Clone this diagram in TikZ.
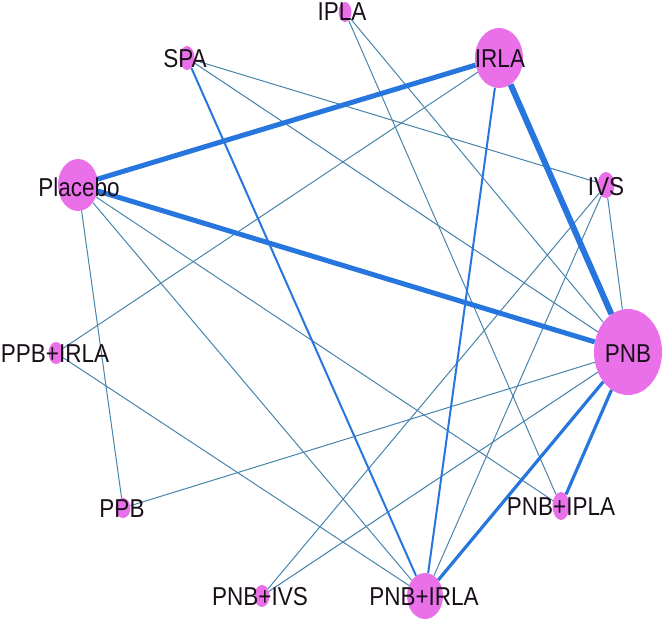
\documentclass[tikz,border=0pt]{standalone}
\usepackage{fontspec}
\setmainfont{Liberation Sans}
\usetikzlibrary{shapes.geometric}
\definecolor{nodefill}{RGB}{234,112,234}
\definecolor{thinedge}{RGB}{72,132,172}
\definecolor{thickedge}{RGB}{38,118,222}
\definecolor{labelcol}{RGB}{25,15,25}
\tikzset{
  dot/.style={ellipse, fill=nodefill, draw=none, inner sep=0pt},
  lbl/.style={inner sep=0pt, text=labelcol, font=\fontsize{22.5}{24}\selectfont},
  thin edge/.style={draw=thinedge, line width=1pt},
  mid edge/.style={draw=thickedge, line width=2pt},
  med edge/.style={draw=thickedge, line width=3.2pt},
  fat edge/.style={draw=thickedge, line width=5pt},
}
\newcommand{\lab}[1]{\scalebox{1}[1.15]{#1}}
\begin{document}
\begin{tikzpicture}[x=1pt,y=-1pt]
\useasboundingbox (0,0) rectangle (665,622);
% nodes
\node[dot, minimum width=13pt, minimum height=20pt] (IPLA) at (345,12) {};
\node[dot, minimum width=15pt, minimum height=24pt] (SPA) at (187,58) {};
\node[dot, minimum width=48pt, minimum height=60pt] (IRLA) at (499,58) {};
\node[dot, minimum width=40pt, minimum height=52pt] (Placebo) at (78,185) {};
\node[dot, minimum width=17pt, minimum height=26pt] (IVS) at (606,185) {};
\node[dot, minimum width=68pt, minimum height=86pt] (PNB) at (628,352) {};
\node[dot, minimum width=15pt, minimum height=22pt] (PPBIRLA) at (56,353) {};
\node[dot, minimum width=15pt, minimum height=20pt] (PPB) at (123,508) {};
\node[dot, minimum width=15pt, minimum height=22pt] (PNBIVS) at (262,596) {};
\node[dot, minimum width=36pt, minimum height=46pt] (PNBIRLA) at (425,596) {};
\node[dot, minimum width=17pt, minimum height=28pt] (PNBIPLA) at (561,506) {};
% edges
\draw[thin edge] (SPA) -- (IVS);
\draw[thin edge] (SPA) -- (PNB);
\draw[thin edge] (IPLA) -- (PNB);
\draw[thin edge] (IPLA) -- (PNBIPLA);
\draw[thin edge] (IRLA) -- (PPBIRLA);
\draw[thin edge] (IVS) -- (PNBIVS);
\draw[thin edge] (IVS) -- (PNBIRLA);
\draw[thin edge] (IVS) -- (PNB);
\draw[thin edge] (Placebo) -- (PPB);
\draw[thin edge] (Placebo) -- (PNBIRLA);
\draw[thin edge] (Placebo) -- (PNBIPLA);
\draw[thin edge] (PPBIRLA) -- (PNBIRLA);
\draw[thin edge] (PPB) -- (PNB);
\draw[thin edge] (PNBIVS) -- (PNB);
\draw[mid edge] (SPA) -- (PNBIRLA);
\draw[mid edge] (IRLA) -- (PNBIRLA);
\draw[med edge] (PNB) -- (PNBIRLA);
\draw[med edge] (PNB) -- (PNBIPLA);
\draw[fat edge] (Placebo) -- (IRLA);
\draw[fat edge] (Placebo) -- (PNB);
\draw[fat edge, line width=6pt] (IRLA) -- (PNB);
% labels
\node[lbl] (tIPLA) at (342,12) {\lab{IPLA}};
\node[lbl] (tSPA) at (185,59) {\lab{SPA}};
\node[lbl] (tIRLA) at (500,59) {\lab{IRLA}};
\node[lbl] (tPlacebo) at (79,187) {\lab{Placebo}};
\node[lbl] (tIVS) at (606,187) {\lab{IVS}};
\node[lbl] (tPNB) at (628,354) {\lab{PNB}};
\node[lbl] (tPPBIRLA) at (55,354) {\lab{PPB+IRLA}};
\node[lbl] (tPPB) at (122,509) {\lab{PPB}};
\node[lbl] (tPNBIVS) at (260,597) {\lab{PNB+IVS}};
\node[lbl] (tPNBIRLA) at (424,597) {\lab{PNB+IRLA}};
\node[lbl] (tPNBIPLA) at (561,507) {\lab{PNB+IPLA}};
\end{tikzpicture}
\end{document}
